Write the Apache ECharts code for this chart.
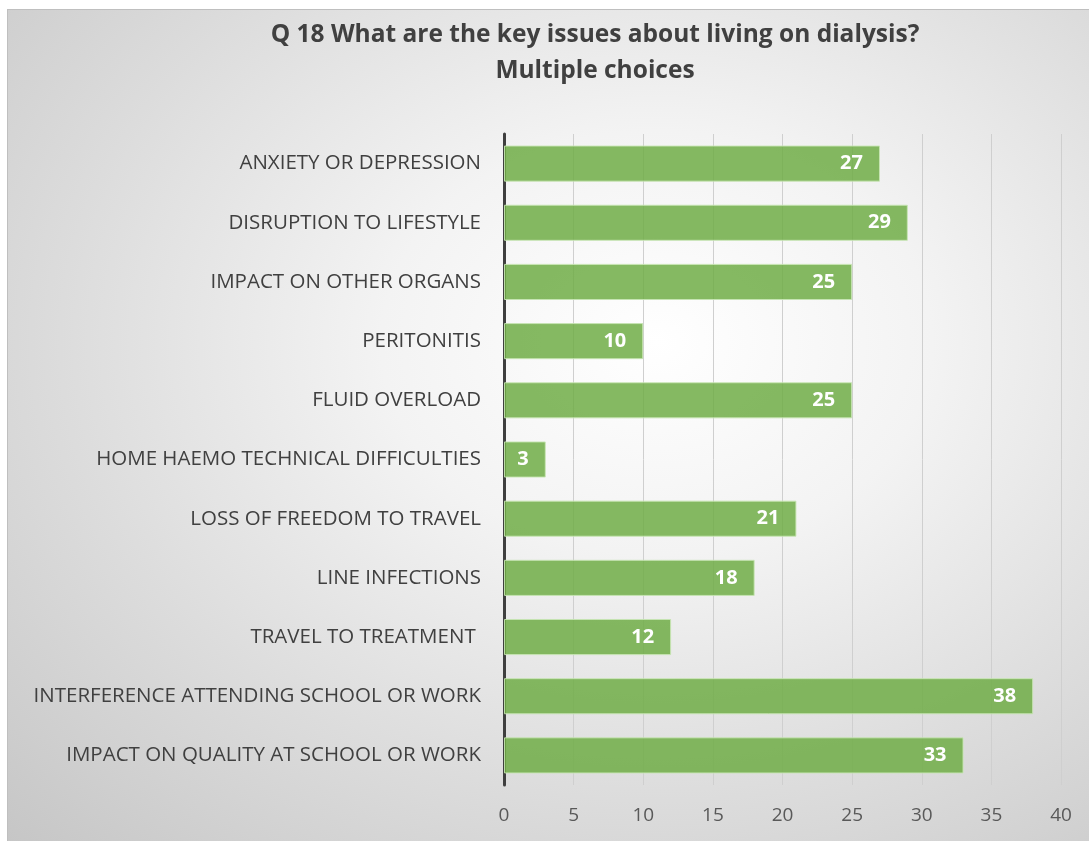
<!DOCTYPE html>
<html>
<head>
<meta charset="utf-8">
<script src="https://cdn.jsdelivr.net/npm/echarts@6/dist/echarts.min.js"></script>
<style>
  html, body { margin: 0; padding: 0; background: #fff; }
  #chart {
    position: absolute;
    left: 7px;
    top: 9px;
    width: 1081px;
    height: 831px;
    border: 1px solid #bfbfbf;
    background: radial-gradient(ellipse at 60% 40%, #ffffff 0%, #f3f3f3 30%, #dcdcdc 65%, #c6c6c6 100%);
  }
</style>
</head>
<body>
<div id="chart"></div>
<script>
// categories, top to bottom
const categories = [
  'ANXIETY OR DEPRESSION',
  'DISRUPTION TO LIFESTYLE',
  'IMPACT ON OTHER ORGANS',
  'PERITONITIS',
  'FLUID OVERLOAD',
  'HOME HAEMO TECHNICAL DIFFICULTIES',
  'LOSS OF FREEDOM TO TRAVEL',
  'LINE INFECTIONS',
  'TRAVEL TO TREATMENT ',
  'INTERFERENCE ATTENDING SCHOOL OR WORK',
  'IMPACT ON QUALITY AT SCHOOL OR WORK'
];
const counts = [27, 29, 25, 10, 25, 3, 21, 18, 12, 38, 33];
const titleLines = ['Q 18 What are the key issues about living on dialysis?', 'Multiple choices'];

const myChart = echarts.init(document.getElementById('chart'));
myChart.setOption({
  animation: false,
  textStyle: { fontFamily: 'Open Sans' },
  title: {
    text: titleLines.join('\n'),
    left: 582,
    top: 2,
    textAlign: 'center',
    textStyle: {
      fontSize: 24.5,
      fontWeight: 'bold',
      color: '#404040',
      lineHeight: 36,
      fontFamily: 'Open Sans'
    }
  },
  grid: {
    left: 496,
    right: 28,
    top: 124,
    bottom: 56
  },
  xAxis: {
    type: 'value',
    min: 0,
    max: 40,
    interval: 5,
    axisLine: { show: false },
    axisTick: { show: false },
    axisLabel: {
      color: '#595959',
      fontSize: 19,
      margin: 21
    },
    splitLine: {
      lineStyle: { color: '#cfcfcf', width: 1 }
    }
  },
  yAxis: {
    type: 'category',
    inverse: true,
    data: categories,
    axisLine: {
      lineStyle: { color: '#3f3f3f', width: 3 }
    },
    axisTick: { show: false },
    axisLabel: {
      color: '#404040',
      fontSize: 20.5,
      margin: 23
    }
  },
  series: [{
    type: 'bar',
    data: counts,
    barWidth: '61%',
    itemStyle: {
      color: 'rgba(112, 173, 71, 0.85)',
      borderColor: 'rgba(200, 230, 180, 0.9)',
      borderWidth: 1
    },
    label: {
      show: true,
      position: 'insideRight',
      distance: 17,
      color: '#ffffff',
      fontSize: 20,
      fontWeight: 'bold'
    }
  }]
});
</script>
</body>
</html>
